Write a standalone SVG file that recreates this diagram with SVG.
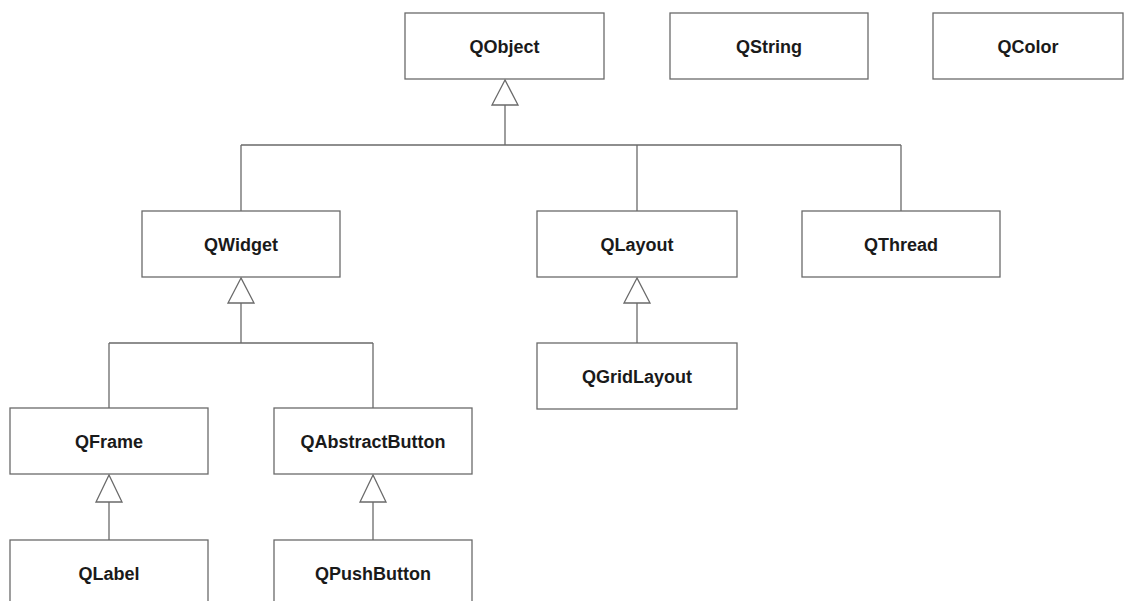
<svg xmlns="http://www.w3.org/2000/svg" width="1129" height="601" viewBox="0 0 1129 601">
  <style>
    .box rect { fill: #ffffff; stroke: #6a6a6a; stroke-width: 1.3; }
    .box text { font-family: "Liberation Sans", Arial, sans-serif; font-size: 18px; font-weight: bold; fill: #1a1a1a; text-anchor: middle; dominant-baseline: central; }
    .edge { fill: none; stroke: #6a6a6a; stroke-width: 1.3; }
    .head { fill: #ffffff; stroke: #6a6a6a; stroke-width: 1.3; stroke-linejoin: miter; }
  </style>
  <rect x="0" y="0" width="1129" height="601" fill="#ffffff"/>

  <g id="connectors">
    <!-- QObject subclasses -->
    <path class="edge" d="M505,104 V145 M241,145 H901 M241,145 V211 M637,145 V211 M901,145 V211"/>
    <polygon class="head" points="505,80 492,105 518,105"/>
    <!-- QWidget subclasses -->
    <path class="edge" d="M241,303 V343 M109,343 H373 M109,343 V408 M373,343 V408"/>
    <polygon class="head" points="241,278 228,303 254,303"/>
    <!-- QLayout -> QGridLayout -->
    <path class="edge" d="M637,303 V343"/>
    <polygon class="head" points="637,278 624,303 650,303"/>
    <!-- QFrame -> QLabel -->
    <path class="edge" d="M109,502 V540"/>
    <polygon class="head" points="109,475 96,502 122,502"/>
    <!-- QAbstractButton -> QPushButton -->
    <path class="edge" d="M373,502 V540"/>
    <polygon class="head" points="373,475 360,502 386,502"/>
  </g>

  <g id="QObject" class="box"><rect x="405" y="13" width="199" height="66"/><text x="504.5" y="47">QObject</text></g>
  <g id="QString" class="box"><rect x="670" y="13" width="198" height="66"/><text x="769" y="47">QString</text></g>
  <g id="QColor" class="box"><rect x="933" y="13" width="190" height="66"/><text x="1028" y="47">QColor</text></g>
  <g id="QWidget" class="box"><rect x="142" y="211" width="198" height="66"/><text x="241" y="245">QWidget</text></g>
  <g id="QLayout" class="box"><rect x="537" y="211" width="200" height="66"/><text x="637" y="245">QLayout</text></g>
  <g id="QThread" class="box"><rect x="802" y="211" width="198" height="66"/><text x="901" y="245">QThread</text></g>
  <g id="QGridLayout" class="box"><rect x="537" y="343" width="200" height="66"/><text x="637" y="377">QGridLayout</text></g>
  <g id="QFrame" class="box"><rect x="10" y="408" width="198" height="66"/><text x="109" y="442">QFrame</text></g>
  <g id="QAbstractButton" class="box"><rect x="274" y="408" width="198" height="66"/><text x="373" y="442">QAbstractButton</text></g>
  <g id="QLabel" class="box"><rect x="10" y="540" width="198" height="66"/><text x="109" y="574">QLabel</text></g>
  <g id="QPushButton" class="box"><rect x="274" y="540" width="198" height="66"/><text x="373" y="574">QPushButton</text></g>
</svg>
